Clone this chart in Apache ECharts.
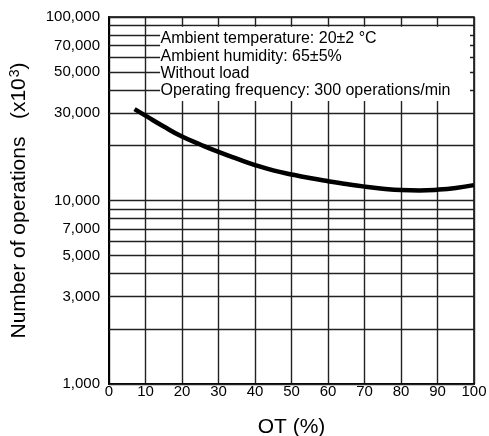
<!DOCTYPE html>
<html>
<head>
<meta charset="utf-8">
<script src="https://cdn.jsdelivr.net/npm/echarts@6/dist/echarts.min.js"></script>
<style>
html,body{margin:0;padding:0;background:#fff;}
#c{width:489px;height:436px;}
</style>
</head>
<body>
<div id="c"></div>
<script>
// ---- data ----
var otPercent = [7, 10, 15, 20, 25, 30, 35, 40, 45, 50, 55, 60, 65, 70, 75, 80, 85, 90, 95, 100];
var operations = [31500, 29000, 25300, 22300, 20200, 18400, 16900, 15600, 14600, 13870, 13250, 12740, 12300, 11900, 11600, 11400, 11350, 11450, 11700, 12130];
var yGridValues = [1000, 2000, 3000, 4000, 5000, 6000, 7000, 8000, 9000, 10000, 20000, 30000, 40000, 50000, 60000, 70000, 80000, 90000, 100000];
var yTickLabels = [1000, 3000, 5000, 7000, 10000, 30000, 50000, 70000, 100000];
var notes = ['Ambient temperature: 20\u00b12 \u00b0C', 'Ambient humidity: 65\u00b15%', 'Without load', 'Operating frequency: 300 operations/min'];
var noteAnchors = [76500, 61000, 49400, 39500];

var FONT = '"Liberation Sans", Arial, Helvetica, sans-serif';
function fmt(v){ return v.toString().replace(/\B(?=(\d{3})+(?!\d))/g, ','); }

var chart = echarts.init(document.getElementById('c'), null, {renderer:'canvas'});

var gridLines = yGridValues.map(function(v){
  var labelled = yTickLabels.indexOf(v) >= 0;
  return {
    yAxis: v,
    label: {show: labelled, formatter: fmt(v), position: 'start', distance: 9,
            color: '#000', fontSize: 15, fontFamily: FONT}
  };
});

var option = {
  animation: false,
  backgroundColor: '#fff',
  grid: {left: 109, right: 15, top: 17, bottom: 52, containLabel: false, outerBoundsMode: 'none',
         show: true, borderColor: '#000', borderWidth: 1.5, backgroundColor: 'transparent'},
  xAxis: {
    type: 'value', min: 0, max: 100, interval: 10,
    name: 'OT (%)', nameLocation: 'middle', nameGap: 33,
    nameTextStyle: {color: '#000', fontSize: 21, fontFamily: FONT},
    axisLine: {show: true, lineStyle: {color: '#000', width: 2}},
    axisTick: {show: false},
    axisLabel: {color: '#000', fontSize: 15, fontFamily: FONT, margin: 0},
    splitLine: {show: true, lineStyle: {color: '#222', width: 1.4}}
  },
  yAxis: {
    type: 'log', logBase: 10, min: 1000, max: 100000,
    name: 'Number of operations   (x10{sup|3})', nameLocation: 'middle', nameGap: 79, nameRotate: 90,
    nameTextStyle: {color: '#000', fontSize: 21, fontFamily: FONT,
      rich: {sup: {fontSize: 14, fontFamily: FONT, color: '#000', verticalAlign: 'top', padding: [0, 0, 8, 1]}}},
    axisLine: {show: true, lineStyle: {color: '#000', width: 2}},
    axisTick: {show: false},
    axisLabel: {show: false},
    splitLine: {show: false},
    minorSplitLine: {show: false}
  },
  series: [
    {
      name: 'grid', type: 'line', data: [], z: 2, silent: true,
      markLine: {
        silent: true, symbol: ['none', 'none'], animation: false, z: 2,
        lineStyle: {color: '#222', width: 1.4, type: 'solid'},
        data: gridLines
      }
    },
    {
      name: 'box', type: 'line', data: [], z: 3, silent: true,
      markArea: {
        silent: true, z: 3,
        itemStyle: {color: '#fff', opacity: 1},
        data: [[{xAxis: 14, yAxis: 88500}, {xAxis: 98.9, yAxis: 34900}]]
      },
      markPoint: {
        silent: true, symbol: 'circle', symbolSize: 0, z: 4,
        label: {show: true, position: 'right', distance: 0, color: '#000', fontSize: 16, fontFamily: FONT},
        data: notes.map(function(t, i){
          return {coord: [14.1, noteAnchors[i]], label: {formatter: t}};
        })
      }
    },
    {
      name: 'curve', type: 'line', z: 6, smooth: true, showSymbol: false, silent: true,
      lineStyle: {color: '#000', width: 4.5},
      data: otPercent.map(function(x, i){ return [x, operations[i]]; })
    }
  ]
};
chart.setOption(option);
</script>
</body>
</html>
